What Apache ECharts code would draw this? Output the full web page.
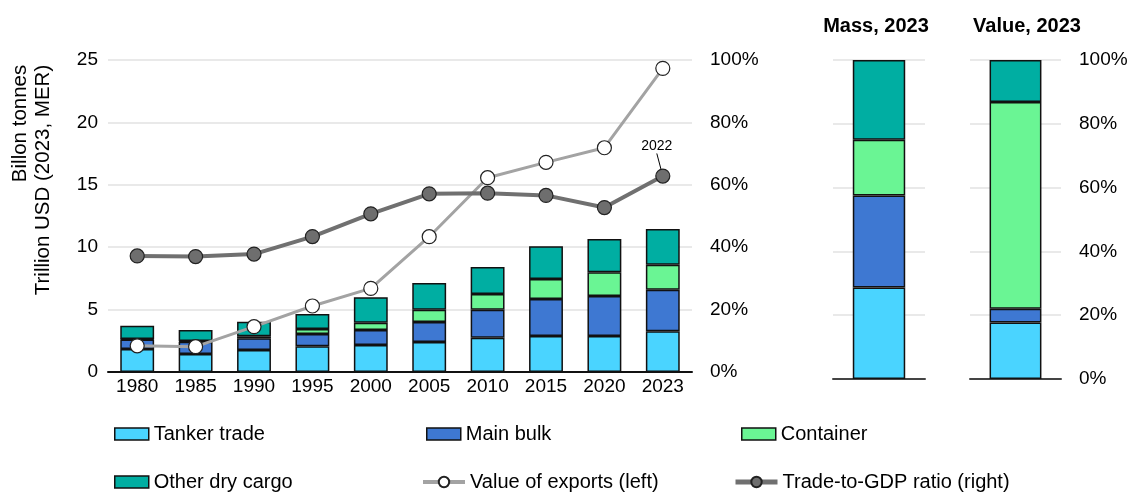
<!DOCTYPE html>
<html><head><meta charset="utf-8">
<script src="https://cdn.jsdelivr.net/npm/echarts@6/dist/echarts.min.js"></script>
<style>html,body{margin:0;padding:0;background:#fff}#c{width:1129px;height:494px}</style>
</head><body><div id="c"></div>
<script>
const years = ['1980','1985','1990','1995','2000','2005','2010','2015','2020','2023'];
const tanker = [1.85,1.44,1.76,2.06,2.16,2.40,2.75,2.88,2.88,3.26];
const mainBulk = [0.75,0.99,0.94,0.99,1.21,1.60,2.24,2.97,3.21,3.34];
const container = [0.05,0.05,0.16,0.40,0.58,0.99,1.26,1.60,1.90,2.00];
const otherDry = [1.05,0.89,1.17,1.20,2.03,2.14,2.16,2.62,2.67,2.86];
const exportsValue = [2.1,2.03,3.63,5.29,6.7,10.84,15.57,16.8,17.97,24.33];
const tradeToGdp = [37.2,37.0,37.8,43.4,50.7,57.1,57.3,56.6,52.7,62.8];
const lastPointLabel = '2022';
const massShare = [28.7,28.8,17.5,25.0];
const valueShare = [17.7,4.3,64.8,13.2];
const leftTicks = {min:0,max:25,interval:5};
const pctTicks = {min:0,max:100,interval:20};

const names = ['Tanker trade','Main bulk','Container','Other dry cargo'];
const colors = ['#4AD4FF','#3E78D2','#6AF594','#00AEA2'];
const font = 'Liberation Sans, Arial, sans-serif';
const chart = echarts.init(document.getElementById('c'));
const grid = '#E2E2E2';
const barSeries = [];
const stacks = [tanker, mainBulk, container, otherDry];
stacks.forEach((d,i)=>{
  barSeries.push({name:names[i],type:'bar',stack:'a',xAxisIndex:0,yAxisIndex:0,data:d,barWidth:'58%',
    itemStyle:{color:colors[i],borderColor:'#111',borderWidth:1.5},z:2});
  barSeries.push({name:names[i],type:'bar',stack:'m',xAxisIndex:1,yAxisIndex:2,data:[massShare[i]],barWidth:'57%',
    itemStyle:{color:colors[i],borderColor:'#111',borderWidth:1.5}});
  barSeries.push({name:names[i],type:'bar',stack:'v',xAxisIndex:2,yAxisIndex:3,data:[valueShare[i]],barWidth:'57%',
    itemStyle:{color:colors[i],borderColor:'#111',borderWidth:1.5}});
});
const gdpData = tradeToGdp.map((v,i)=> i===tradeToGdp.length-1 ? {value:v,label:{show:true,formatter:lastPointLabel}} : v);
const legendText = {fontFamily:font,fontSize:20,color:'#000',lineHeight:22};
function rectLegend(name,left,top){
  return {data:[{name:name,icon:'rect'}],left:left,top:top,padding:0,itemWidth:34,itemHeight:12,
    textStyle:legendText,itemStyle:{borderColor:'#111',borderWidth:1.5}};
}
function lineLegend(name,left,top,lw){
  return {data:[name],left:left,top:top,padding:0,itemWidth:42,itemHeight:13,
    textStyle:legendText,lineStyle:{width:lw}};
}
chart.setOption({
  animation:false,
  title:[
    {text:'Mass, 2023',left:871,top:11,textAlign:'center',textStyle:{fontFamily:font,fontSize:20,fontWeight:'bold',color:'#000'}},
    {text:'Value, 2023',left:1022,top:11,textAlign:'center',textStyle:{fontFamily:font,fontSize:20,fontWeight:'bold',color:'#000'}}
  ],
  legend:[
    rectLegend('Tanker trade',114,423),
    rectLegend('Main bulk',426,423),
    rectLegend('Container',741,423),
    rectLegend('Other dry cargo',114,471),
    lineLegend('Value of exports (left)',421,471,4),
    lineLegend('Trade-to-GDP ratio (right)',733,471,5)
  ],
  grid:[
    {left:108,top:60,width:584,height:312,outerBoundsMode:'none',containLabel:false},
    {left:833,top:60,width:92,height:319,outerBoundsMode:'none',containLabel:false},
    {left:970,top:60,width:91,height:319,outerBoundsMode:'none',containLabel:false}
  ],
  xAxis:[
    {type:'category',gridIndex:0,data:years,axisLine:{lineStyle:{color:'#111',width:2}},axisTick:{show:false},
      axisLabel:{fontFamily:font,fontSize:19,color:'#000',margin:5}},
    {type:'category',gridIndex:1,data:['Mass'],axisLine:{lineStyle:{color:'#444',width:2}},axisTick:{show:false},axisLabel:{show:false}},
    {type:'category',gridIndex:2,data:['Value'],axisLine:{lineStyle:{color:'#444',width:2}},axisTick:{show:false},axisLabel:{show:false}}
  ],
  yAxis:[
    {type:'value',gridIndex:0,min:leftTicks.min,max:leftTicks.max,interval:leftTicks.interval,
      name:'{a|Billon tonnes}\n{a|Trillion USD (2023, MER)}',nameLocation:'middle',nameGap:53,nameRotate:90,
      nameTextStyle:{fontFamily:font,fontSize:20.5,color:'#000',lineHeight:23,padding:[0,0,0,72],
        rich:{a:{align:'right',fontFamily:font,fontSize:20.5,color:'#000',lineHeight:23}}},
      axisLine:{show:false},axisTick:{show:false},
      axisLabel:{fontFamily:font,fontSize:19,color:'#000',margin:10},
      splitLine:{lineStyle:{color:grid,width:1.5}}},
    {type:'value',gridIndex:0,position:'right',min:pctTicks.min,max:pctTicks.max,interval:pctTicks.interval,
      axisLine:{show:false},axisTick:{show:false},splitLine:{show:false},
      axisLabel:{fontFamily:font,fontSize:19,color:'#000',margin:18,formatter:'{value}%'}},
    {type:'value',gridIndex:1,min:pctTicks.min,max:pctTicks.max,interval:pctTicks.interval,
      axisLine:{show:false},axisTick:{show:false},axisLabel:{show:false},splitLine:{lineStyle:{color:grid,width:1.5}}},
    {type:'value',gridIndex:2,position:'right',min:pctTicks.min,max:pctTicks.max,interval:pctTicks.interval,
      axisLine:{show:false},axisTick:{show:false},splitLine:{lineStyle:{color:grid,width:1.5}},
      axisLabel:{fontFamily:font,fontSize:19,color:'#000',margin:18,formatter:'{value}%'}}
  ],
  series: barSeries.concat([
    {name:'Value of exports (left)',type:'line',xAxisIndex:0,yAxisIndex:0,data:exportsValue,z:5,
      symbol:'circle',symbolSize:14,lineStyle:{color:'#A3A3A3',width:3},
      itemStyle:{color:'#fff',borderColor:'#222',borderWidth:1.2}},
    {name:'Trade-to-GDP ratio (right)',type:'line',xAxisIndex:0,yAxisIndex:1,data:gdpData,z:6,
      symbol:'circle',symbolSize:14,lineStyle:{color:'#707070',width:4},
      itemStyle:{color:'#6E6E6E',borderColor:'#222',borderWidth:1.2},
      label:{show:false,fontFamily:font,fontSize:14,color:'#000'},
      labelLayout:function(p){ return p.dataIndex===tradeToGdp.length-1 ? {dx:-6,dy:-10} : {}; },
      labelLine:{show:true,lineStyle:{color:'#000',width:1}}}
  ])
});
</script></body></html>
